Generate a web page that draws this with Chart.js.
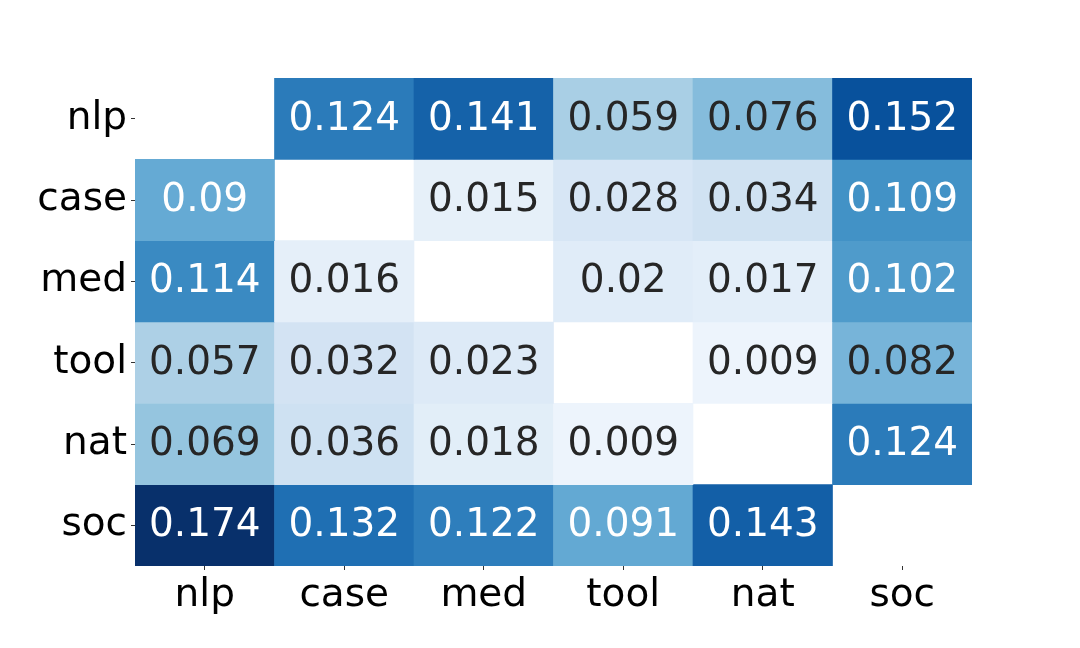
<!DOCTYPE html>
<html>
<head>
<meta charset="utf-8">
<script src="https://cdn.jsdelivr.net/npm/chart.js@4/dist/chart.umd.min.js"></script>
<style>
  body { margin: 0; background: #fff; }
  #wrap { width: 1080px; height: 648px; }
</style>
</head>
<body>
<div id="wrap"><canvas id="heat" width="1080" height="648"></canvas></div>
<script>
// categories (same order on both axes, rows top to bottom)
const labels = ['nlp', 'case', 'med', 'tool', 'nat', 'soc'];

// one row of the matrix per category, null = blank diagonal
const nlpRow  = [null, 0.124, 0.141, 0.059, 0.076, 0.152];
const caseRow = [0.09, null, 0.015, 0.028, 0.034, 0.109];
const medRow  = [0.114, 0.016, null, 0.02, 0.017, 0.102];
const toolRow = [0.057, 0.032, 0.023, null, 0.009, 0.082];
const natRow  = [0.069, 0.036, 0.018, 0.009, null, 0.124];
const socRow  = [0.174, 0.132, 0.122, 0.091, 0.143, null];
const matrix = [nlpRow, caseRow, medRow, toolRow, natRow, socRow];

// matplotlib "Blues"
const blues = [
  [247, 251, 255], [222, 235, 247], [198, 219, 239], [158, 202, 225],
  [107, 174, 214], [66, 146, 198], [33, 113, 181], [8, 81, 156], [8, 48, 107]
];

// colour scale runs from 0 (the masked diagonal) to the largest value
const allVals = matrix.flat().filter(v => v !== null);
const vmin = 0;
const vmax = Math.max(...allVals);

function cmap(v) {
  let t = (v - vmin) / (vmax - vmin);
  t = Math.max(0, Math.min(1, t)) * (blues.length - 1);
  const i = Math.min(Math.floor(t), blues.length - 2);
  const f = t - i;
  return blues[i].map((c, k) => Math.round(c + (blues[i + 1][k] - c) * f));
}

function luminance(rgb) {
  const lin = rgb.map(c => {
    c = c / 255;
    return c <= 0.03928 ? c / 12.92 : Math.pow((c + 0.055) / 1.055, 2.4);
  });
  return 0.2126 * lin[0] + 0.7152 * lin[1] + 0.0722 * lin[2];
}

const n = labels.length;
const datasets = matrix.map((row, r) => ({
  label: labels[r],
  data: row.map(v => v === null ? null : [n - 1 - r, n - r]),
  values: row,
  backgroundColor: row.map(v => v === null ? 'rgba(0,0,0,0)' : `rgb(${cmap(v).join(',')})`),
  borderWidth: 0,
  borderSkipped: false,
  barPercentage: 1,
  categoryPercentage: 1,
  grouped: false
}));

const font = { family: 'DejaVu Sans', size: 39 };

// write the numbers into each cell
const annotate = {
  id: 'annotate',
  afterDatasetsDraw(chart) {
    const ctx = chart.ctx;
    ctx.save();
    ctx.font = `${font.size}px ${font.family}`;
    ctx.textAlign = 'center';
    ctx.textBaseline = 'middle';
    chart.data.datasets.forEach((ds, i) => {
      chart.getDatasetMeta(i).data.forEach((bar, j) => {
        const v = ds.values[j];
        if (v === null) return;
        ctx.fillStyle = luminance(cmap(v)) > 0.408 ? '#262626' : '#ffffff';
        ctx.fillText(String(v), bar.x, (bar.y + bar.base) / 2 + 1);
      });
    });
    ctx.restore();
  }
};

new Chart(document.getElementById('heat'), {
  type: 'bar',
  data: { labels: labels, datasets: datasets },
  plugins: [annotate],
  options: {
    responsive: false,
    animation: false,
    layout: { padding: { left: 0, right: 108, top: 78, bottom: 0 } },
    plugins: { legend: { display: false }, tooltip: { enabled: false } },
    scales: {
      x: {
        type: 'category',
        border: { display: false },
        grid: { display: true, offset: false, drawOnChartArea: false, tickLength: 4, color: '#333' },
        ticks: { color: '#000', font: font, padding: 2, maxRotation: 0 },
        afterFit(scale) { scale.height = 82; }
      },
      y: {
        type: 'linear',
        min: 0,
        max: n,
        border: { display: false },
        grid: { display: true, drawOnChartArea: false, tickLength: 4, color: '#333' },
        afterBuildTicks(scale) {
          scale.ticks = labels.map((_, i) => ({ value: n - 0.5 - i }));
        },
        ticks: {
          color: '#000',
          font: font,
          padding: 4,
          callback: v => labels[Math.round(n - 0.5 - v)]
        },
        afterFit(scale) { scale.width = 135; }
      }
    }
  }
});
</script>
</body>
</html>
